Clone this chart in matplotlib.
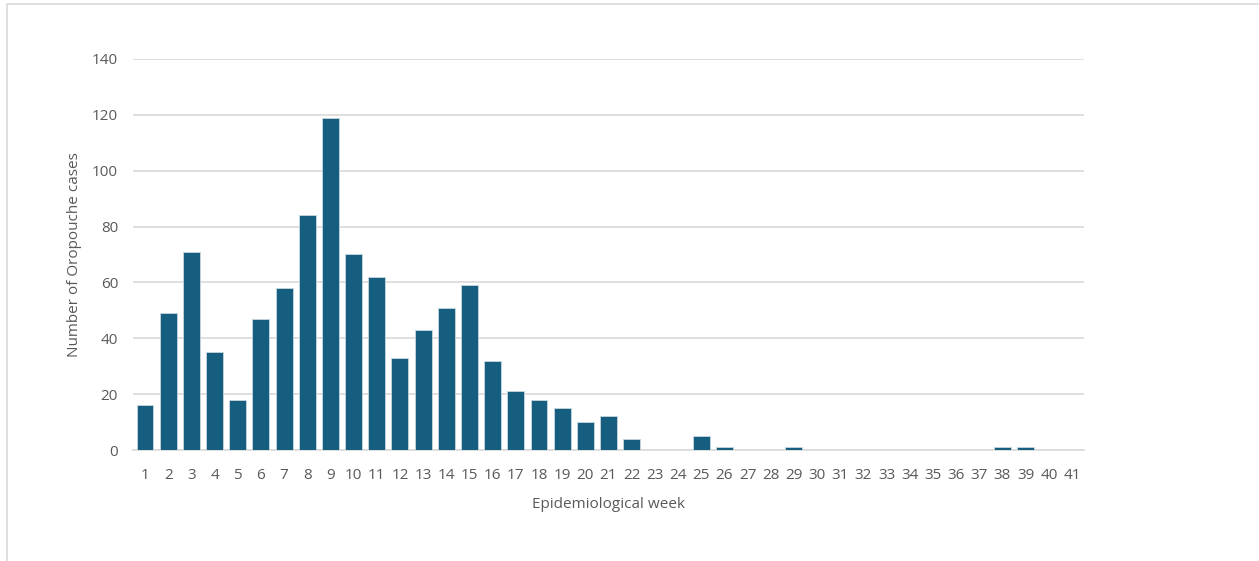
import matplotlib
matplotlib.use("Agg")
import matplotlib.pyplot as plt
from matplotlib.patches import Rectangle

weeks = [str(i) for i in range(1, 42)]
cases = [16, 49, 71, 35, 18, 47, 58, 84, 119, 70, 62, 33, 43, 51, 59, 32, 21, 18, 15, 10,
         12, 4, 0, 0, 5, 1, 0, 0, 1, 0, 0, 0, 0, 0, 0, 0, 0, 1, 1, 0, 0]
yticks = [0, 20, 40, 60, 80, 100, 120, 140]

plt.rcParams['font.family'] = ['Open Sans', 'DejaVu Sans']

W, H = 1259, 561
fig = plt.figure(figsize=(W / 100, H / 100), dpi=100)
fig.patches.append(Rectangle((7 / W, -0.1), 1.2, 0.1 + (H - 3.5) / H, transform=fig.transFigure,
                             fill=False, edgecolor='#d9d9d9', linewidth=1.2))

left, right = 133.4, 1083.6
bottom, top = 450, 59
ax = fig.add_axes([left / W, 1 - bottom / H, (right - left) / W, (bottom - top) / H])

x = list(range(len(weeks)))
ax.bar(x, cases, width=0.73, color='#165E80', edgecolor='#c8d6df', linewidth=0.6, zorder=3)
ax.set_xlim(-0.5, len(weeks) - 0.5)
ax.set_ylim(0, 140)
ax.set_yticks(yticks)
ax.set_xticks(x)
ax.set_xticklabels(weeks)
ax.grid(axis='y', color='#d9d9d9', linewidth=1.2, zorder=0)
for s in ['top', 'right', 'left']:
    ax.spines[s].set_visible(False)
ax.spines['bottom'].set_color('#d9d9d9')
ax.spines['bottom'].set_linewidth(1.2)
ax.tick_params(axis='both', length=0, colors='#595959', labelsize=11)
ax.tick_params(axis='y', pad=11)
ax.tick_params(axis='x', pad=13)
ax.set_ylabel('Number of Oropouche cases', color='#595959', fontsize=11, labelpad=7)
ax.set_xlabel('Epidemiological week', color='#595959', fontsize=11, labelpad=10)

fig.savefig('out.png', dpi=100)
